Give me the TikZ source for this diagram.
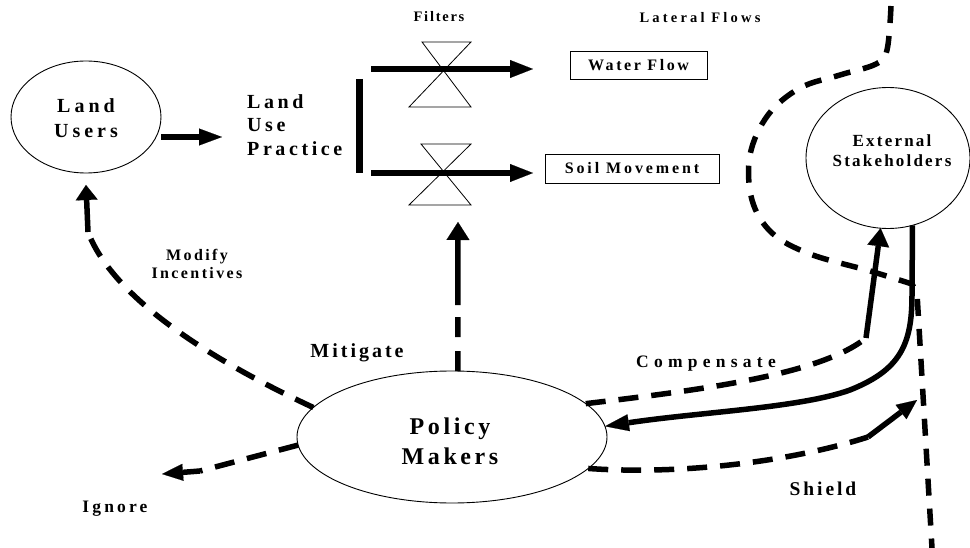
\documentclass[tikz,border=0pt]{standalone}
\usepackage{fontspec}
\setmainfont{Liberation Serif}
\usetikzlibrary{arrows.meta,shapes.geometric}
\newcommand\myfnt[3]{\fontsize{#1}{#2}\selectfont\bfseries\addfontfeature{LetterSpace=#3}}
\begin{document}
\begin{tikzpicture}[x=1pt,y=-1pt,
  ell/.style={draw, ellipse, line width=0.9pt, inner sep=0pt, outer sep=0pt},
  txt/.style={inner sep=0pt, align=center},
  bx/.style={draw, line width=0.9pt, inner sep=0pt},
  arr/.style 2 args={line width=5.5pt, -{Triangle[length=#1, width=#2, line width=0.1pt]}},
  dsh/.style={line width=5.5pt, dash pattern=on 20pt off 13pt},
  vlv/.style={line width=0.8pt, line join=miter}
]
\useasboundingbox (0,0) rectangle (970,548);

% ellipses
\node[ell, minimum width=150pt, minimum height=112pt] (lu) at (86,117) {};
\node[txt, font=\myfnt{20}{25}{20}] (lut) at (86,118) {Land\\Users};
\node[ell, minimum width=310pt, minimum height=132pt] (pm) at (452,437) {};
\node[txt, font=\myfnt{24}{30}{15}] (pmt) at (450,441) {Policy\\Makers};
\node[ell, minimum width=164pt, minimum height=141pt] (ext) at (888,158) {};
\node[txt, font=\myfnt{17}{20}{13}] (extt) at (892,151) {External\\Stakeholders};

% land use practice
\node[txt, font=\myfnt{20}{23.5}{18}, align=left, anchor=west] (lup) at (247,125) {Land\\Use\\Practice};

% boxes
\node[bx, minimum width=137pt, minimum height=28pt, font=\myfnt{16}{16}{16}] (wf) at (638.5,65) {Water Flow};
\node[bx, minimum width=174pt, minimum height=29pt, font=\myfnt{16}{16}{18}] (sm) at (632,168.5) {Soil Movement};

% labels
\node[txt, font=\myfnt{14.5}{15}{12}, anchor=base] (filt) at (439,22) {Filters};
\node[txt, font=\myfnt{14.5}{15}{22}, anchor=base] (lat) at (700,23) {Lateral Flows};
\node[txt, font=\myfnt{16}{18}{15}] (mod) at (197,264) {Modify\\Incentives};
\node[txt, font=\myfnt{20}{24}{15}, anchor=base] (mit) at (357,357) {Mitigate};
\node[txt, font=\myfnt{17.5}{20}{30}, anchor=base] (comp) at (706,367) {Compensate};
\node[txt, font=\myfnt{19.5}{20}{15}, anchor=base] (shl) at (823,495) {Shield};
\node[txt, font=\myfnt{17.5}{20}{18}, anchor=base] (ign) at (115,512) {Ignore};

% valves
\draw[vlv] (422,42) -- (471,42) -- (409,107) -- (471,107) -- cycle;
\draw[vlv] (421,144) -- (471,144) -- (409,205) -- (471,205) -- cycle;

% land users -> practice
\coordinate (lpin) at (222,137);
\draw[arr={23pt}{17pt}] (lu.east |- lpin) -- (lpin);

% bar and flows
\coordinate (bt) at (359,79);
\coordinate (bb) at (359,173);
\draw[line width=7pt] (bt) -- (bb);
\coordinate (f1a) at (371,69);
\coordinate (f1b) at (533,69);
\coordinate (f2a) at (371,173);
\coordinate (f2b) at (533,173);
\draw[arr={23pt}{18pt}] (f1a) -- (f1b);
\draw[arr={23pt}{18pt}] (f2a) -- (f2b);

% modify incentives
\coordinate (modj) at (88,232);
\draw[dsh] (pm.168) .. controls (190,350) and (110,290) .. (modj);
\draw[arr={15pt}{22pt}] (modj) -- ([yshift=-12pt]lu.south);

% mitigate
\coordinate (mite) at (458,222);
\draw[arr={18pt}{23pt}, dash pattern=on 20pt off 14pt on 20pt off 12pt on 400pt off 1pt] (pm.85) -- (mite);

% ignore
\coordinate (ignj) at (200,471);
\coordinate (igne) at (162,474);
\draw[dsh] (pm.183) -- (ignj);
\draw[arr={21pt}{17pt}] (ignj) -- (igne);

% compensate
\coordinate (compj) at (866,338);
\draw[dsh] (pm.14) .. controls (700,390) and (820,375) .. (compj);
\draw[arr={18pt}{22pt}] (compj) -- (ext.-96);

% return flow
\draw[arr={24pt}{17pt}] (ext.-70) -- (912,295) .. controls (912,345) and (900,370) .. (850,390) .. controls (800,408) and (700,412) .. (pm.4);

% shield
\coordinate (shj) at (868,437);
\coordinate (she) at (917,400);
\draw[dsh] (pm.-13) .. controls (680,475) and (790,462) .. (shj);
\draw[arr={20pt}{18pt}] (shj) -- (she);

% lateral flows path
\draw[dsh, dash pattern=on 17pt off 13pt] plot[smooth, tension=0.6] coordinates {(891,6) (887,50) (876,64) (840,75) (800,88) (768,115) (750,155) (752,200) (772,233) (810,254) (870,271) (912,284)} -- (917,293) -- (932,548);
\end{tikzpicture}
\end{document}
